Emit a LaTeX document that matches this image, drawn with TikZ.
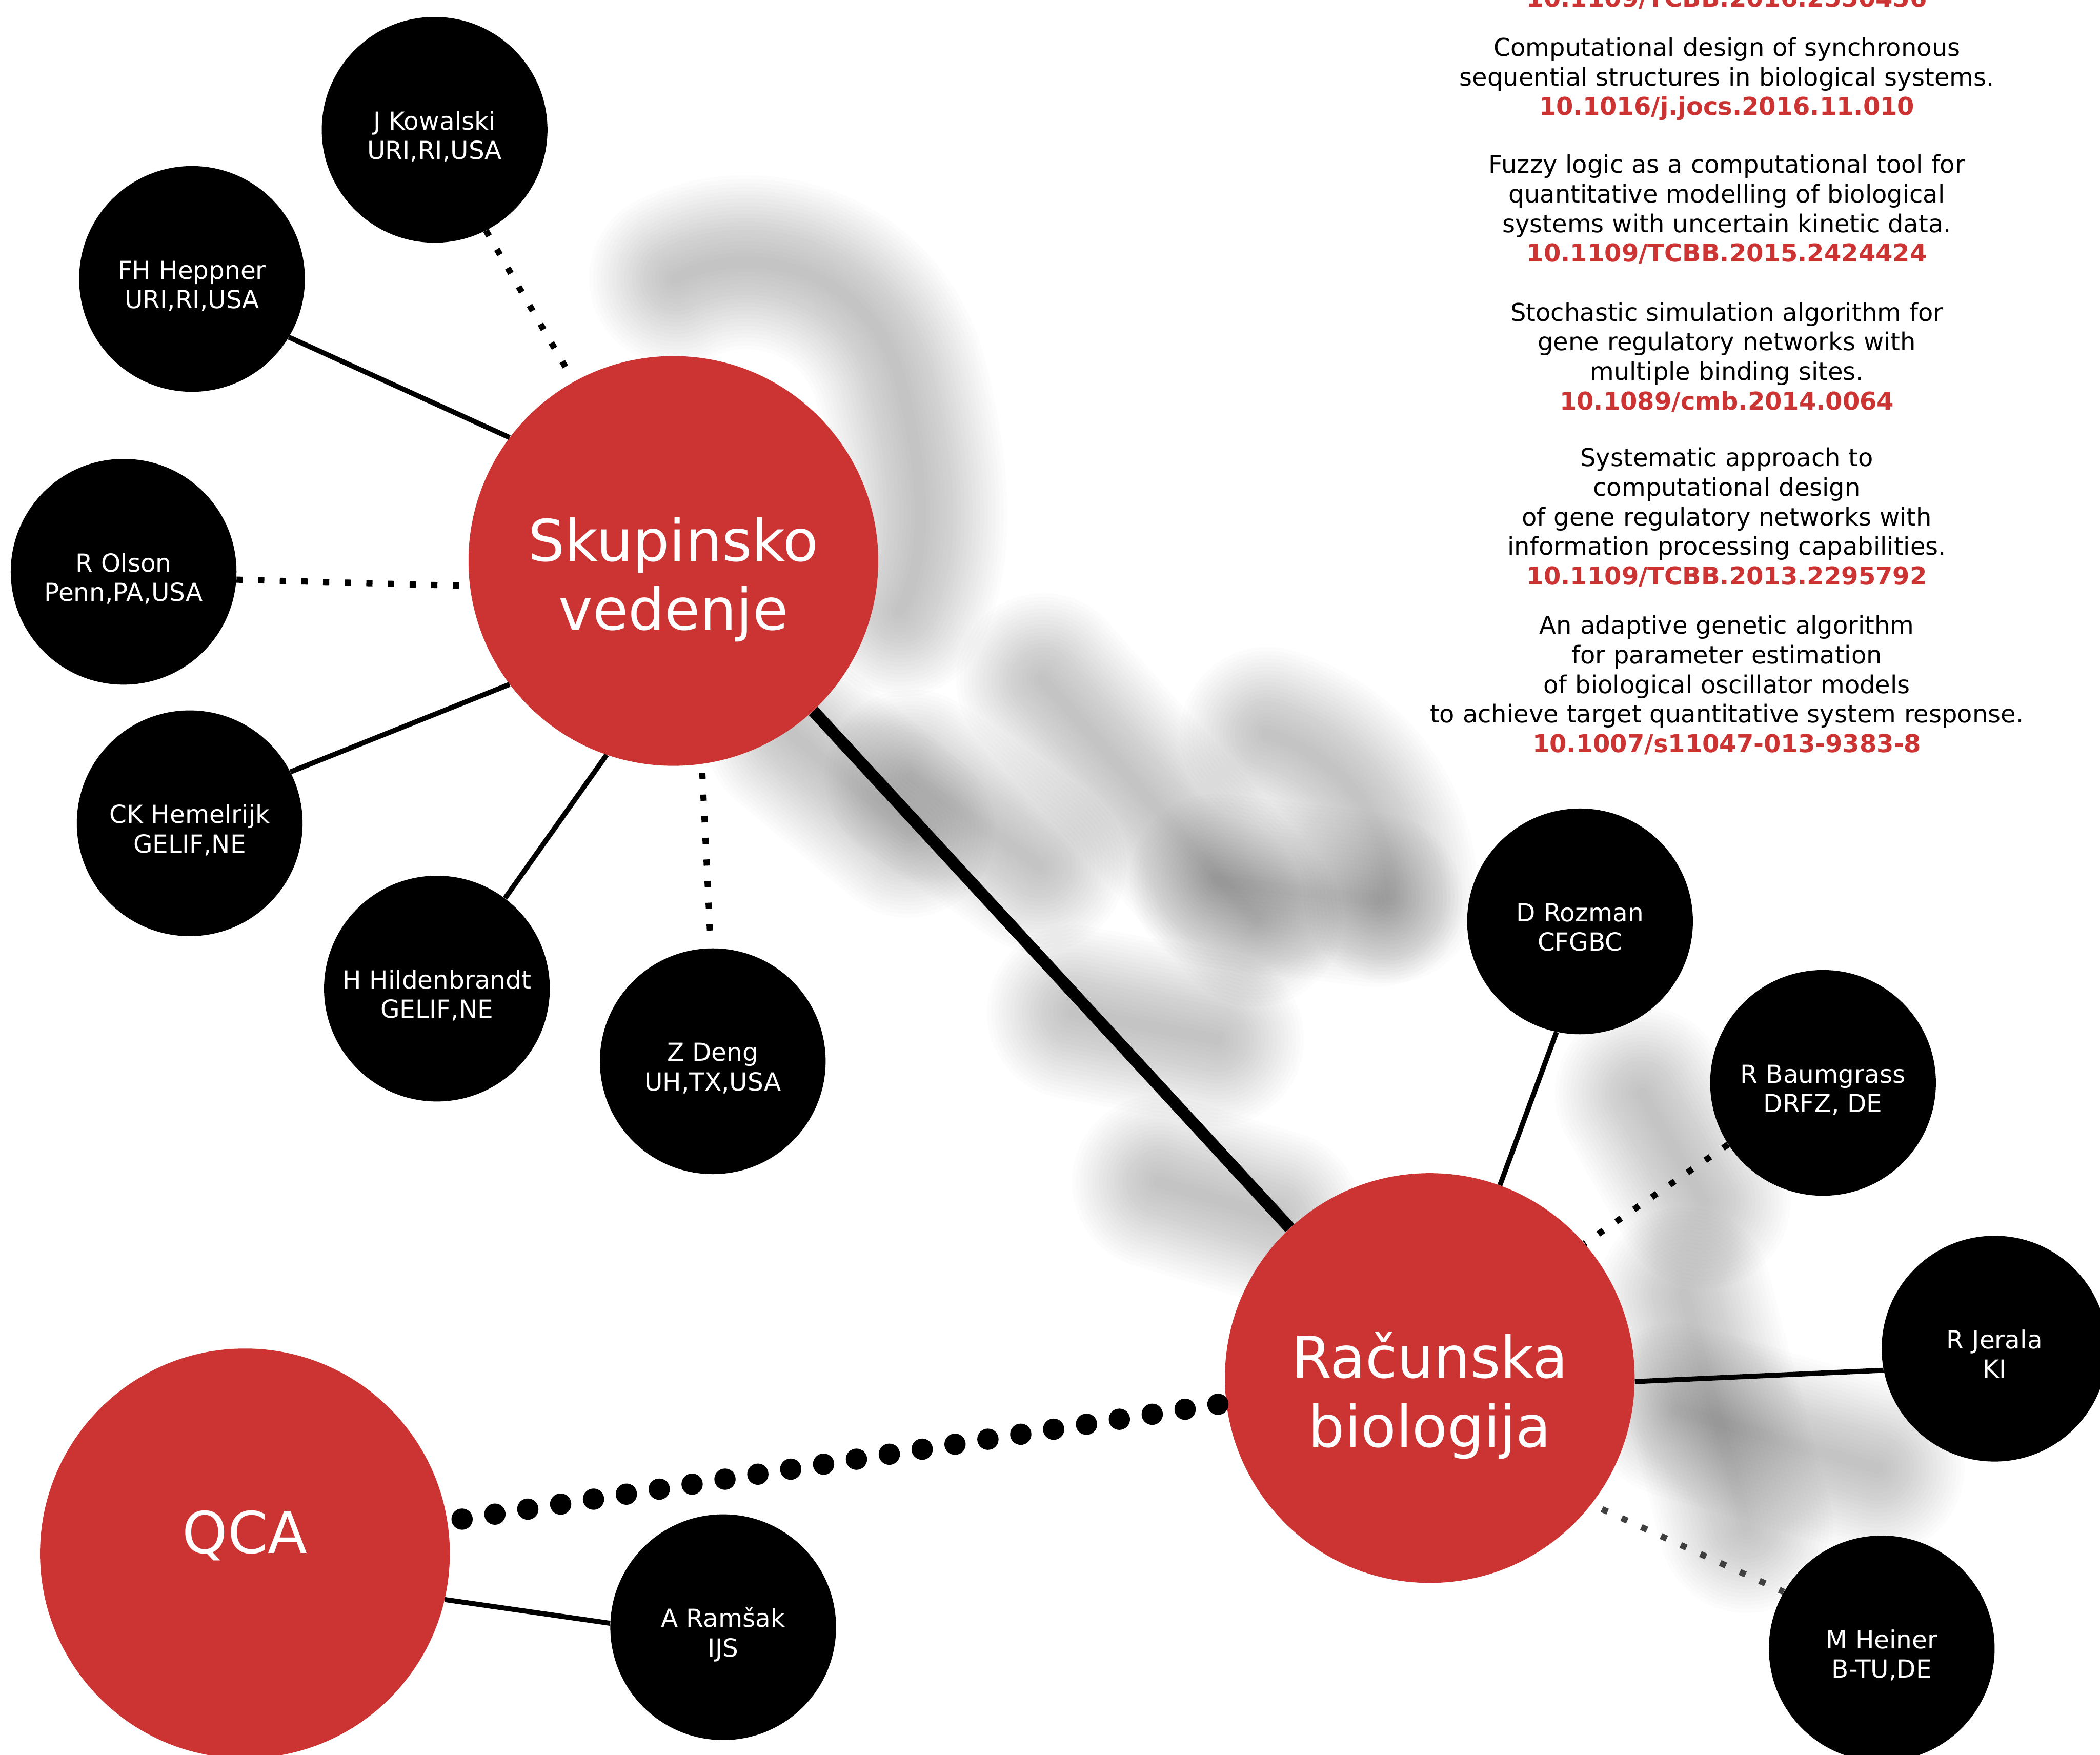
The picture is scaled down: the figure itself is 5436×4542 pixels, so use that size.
\documentclass[tikz,border=0pt]{standalone}
\usepackage{fontspec}
\setmainfont{DejaVu Sans}
\definecolor{nodered}{RGB}{204,51,51}
\newcommand{\doiref}[1]{{\bfseries\color{nodered}#1}}
% soft grey shadow: one path stroked many times
\newcommand{\haze}[1]{\foreach \w in {0.3,0.5,...,4.5}{\draw[haze,line width=\w cm] #1;}}

\begin{document}
\begin{tikzpicture}[x=0.01cm,y=-0.01cm,
  member/.style={circle,fill=black,text=white,minimum size=5.84cm,inner sep=0pt,
                 text width=5.2cm,align=center,text height=2mm,text depth=2mm,
                 font=\fontsize{18.3pt}{21.7pt}\selectfont},
  topic/.style={circle,fill=nodered,text=white,minimum size=10.6cm,inner sep=0pt,
                text width=9.5cm,align=center,text height=2mm,text depth=2mm,
                font=\fontsize{42.4pt}{50.9pt}\selectfont},
  paper/.style={anchor=base,inner sep=0pt,text width=17cm,align=center,
                font=\fontsize{18.1pt}{21.8pt}\selectfont},
  tie/.style={line width=1.3mm},
  loose/.style={line width=1.6mm,dash pattern=on 1.6mm off 4mm},
  bond/.style={line width=3.1mm},
  far/.style={line width=5.5mm,line cap=round,dash pattern=on 0pt off 8.6mm},
  haze/.style={black,opacity=0.0105,line cap=round,line join=round}]

\useasboundingbox (0,0) rectangle (5436,4542);

% shadow
\haze{(1750,720) .. controls (1950,620) and (2250,700) .. (2330,980)
      .. controls (2400,1250) and (2400,1450) .. (2330,1580)}
\haze{(2050,1900) -- (2350,2150)}
\haze{(2700,1760) -- (3250,2380)}
\haze{(3150,2280) -- (3560,2330)}
\haze{(3280,1900) .. controls (3450,1950) and (3600,2100) .. (3600,2320)}
\haze{(2360,2010) -- (2690,2240)}
\haze{(2780,2620) -- (3150,2690)}
\haze{(3000,3060) -- (3300,3150)}
\haze{(4250,2830) -- (4410,3110)}
\haze{(4360,3350) -- (4520,3950)}
\haze{(4340,3650) -- (4860,3800)}

% topics
\node[topic] (sk)  at (1743,1452) {Skupinsko\\vedenje};
\node[topic] (rb)  at (3701,3567) {Računska\\biologija};
\node[topic] (qca) at (634,4021)  {QCA};

% people
\node[member] (kow)  at (1125,336)  {J Kowalski\\URI,RI,USA};
\node[member] (hep)  at (497,722)   {FH Heppner\\URI,RI,USA};
\node[member] (ols)  at (320,1480)  {R Olson\\Penn,PA,USA};
\node[member] (hem)  at (491,2131)  {CK Hemelrijk\\GELIF,NE};
\node[member] (hil)  at (1131,2559) {H Hildenbrandt\\GELIF,NE};
\node[member] (deng) at (1845,2747) {Z Deng\\UH,TX,USA};
\node[member] (roz)  at (4090,2385) {D Rozman\\CFGBC};
\node[member] (bau)  at (4719,2803) {R Baumgrass\\DRFZ, DE};
\node[member] (jer)  at (5163,3491) {R Jerala\\KI};
\node[member] (hei)  at (4871,4267) {M Heiner\\B-TU,DE};
\node[member] (ram)  at (1872,4212) {A Ramšak\\IJS};

% papers
\node[paper] (p1) at (4470,18) {\doiref{10.1109/TCBB.2016.2550456}};
\node[paper] (p2) at (4470,145) {Computational design of synchronous\\
  sequential structures in biological systems.\\\doiref{10.1016/j.jocs.2016.11.010}};
\node[paper] (p3) at (4470,448) {Fuzzy logic as a computational tool for\\
  quantitative modelling of biological\\systems with uncertain kinetic data.\\
  \doiref{10.1109/TCBB.2015.2424424}};
\node[paper] (p4) at (4470,831) {Stochastic simulation algorithm for\\
  gene regulatory networks with\\multiple binding sites.\\
  \doiref{10.1089/cmb.2014.0064}};
\node[paper] (p5) at (4470,1207) {Systematic approach to\\computational design\\
  of gene regulatory networks with\\information processing capabilities.\\
  \doiref{10.1109/TCBB.2013.2295792}};
\node[paper] (p6) at (4470,1641) {An adaptive genetic algorithm\\for parameter estimation\\
  of biological oscillator models\\to achieve target quantitative system response.\\
  \doiref{10.1007/s11047-013-9383-8}};

% links
\draw[bond] (sk.-47) -- (rb.133);
\foreach \a/\b in {hep.-31/sk.143,hem.27/sk.217,hil.53/sk.251,roz.-102/rb.70,
                   jer.191/rb.-1,qca.-13/ram.178}
  \draw[tie] (\a) -- (\b);
\draw[loose,shorten >=2mm] (kow.-63) -- (sk.119);
\draw[loose,shorten >=1.7mm] (ols.-4) -- (sk.187);
\draw[loose,shorten <=2.3mm,shorten >=3.5mm] (sk.-82) -- (deng.91);
\draw[loose] (bau.-147) -- (rb.41);
\draw[loose,black!75,shorten <=3mm] (rb.-38) -- (hei.150);
\draw[far,shorten <=3.8mm] (qca.9) -- (rb.187);
\end{tikzpicture}
\end{document}
